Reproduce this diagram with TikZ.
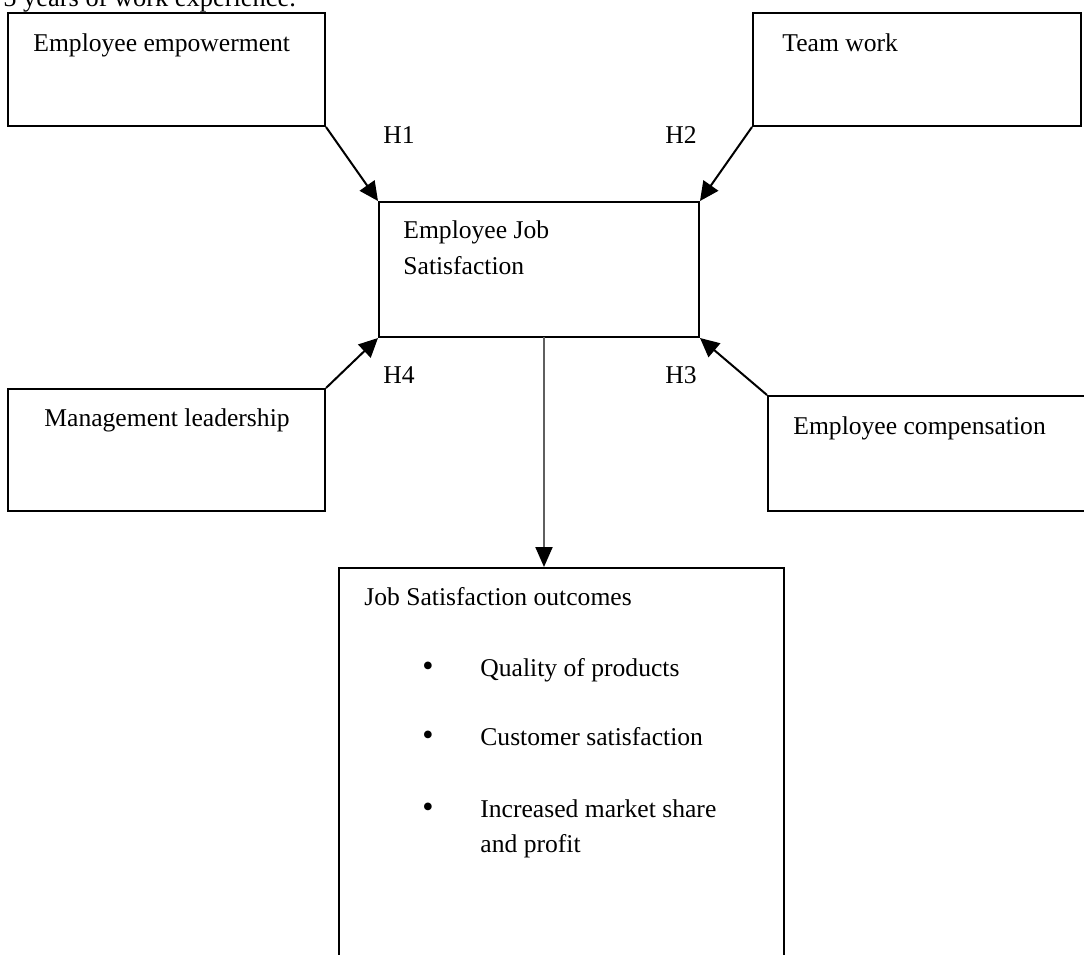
\documentclass[tikz,border=0pt]{standalone}
\usepackage{fontspec}
\setmainfont{Liberation Serif}
\usetikzlibrary{arrows.meta,fit}
\definecolor{linegray}{RGB}{95,95,95}
\begin{document}
\begin{tikzpicture}[x=0.5pt,y=-0.5pt,
  box/.style={draw=black,line width=1pt,inner sep=0pt},
  txt/.style={anchor=base west,inner sep=0pt,font=\fontsize{12.8}{18}\selectfont},
  bul/.style={anchor=base,inner sep=0pt,font=\fontsize{16}{18}\selectfont},
  arr/.style={line width=1pt,-{Triangle[length=9.5pt,width=9pt]}},
]
\useasboundingbox (0,0) rectangle (1084,955);
\clip (0,0) rectangle (1084,955);

% header text (cut off at top, as in the reference)
\node[anchor=base west,inner sep=0pt,font=\fontsize{13.2}{16}\selectfont] (hdr) at (3,6) {5 years of work experience.};

% boxes
\node[box,fit={(8,13) (325,126)}] (emp) {};
\node[box,fit={(753,13) (1081,126)}] (team) {};
\node[box,fit={(379,202) (699,337)}] (ejs) {};
\node[box,fit={(8,389) (325,511)}] (mgmt) {};
\node[box,fit={(768,396) (1100,511)}] (comp) {};
\node[box,fit={(339,568) (784,1000)}] (out) {};

% box texts
\node[txt] (empT) at (33,51) {Employee empowerment};
\node[txt] (teamT) at (782,51) {Team work};
\node[txt] (ejsT1) at (403,238) {Employee Job};
\node[txt] (ejsT2) at (403,274) {Satisfaction};
\node[txt] (mgmtT) at (44,426) {Management leadership};
\node[txt] (compT) at (793,434) {Employee compensation};
\node[txt] (outT) at (364,605) {Job Satisfaction outcomes};

\node[bul] (b1) at (428,676) {\textbullet};
\node[txt] (o1) at (480,676) {Quality of products};
\node[bul] (b2) at (428,745) {\textbullet};
\node[txt] (o2) at (480,745) {Customer satisfaction};
\node[bul] (b3) at (428,817) {\textbullet};
\node[txt] (o3a) at (480,817) {Increased market share};
\node[txt] (o3b) at (480,852) {and profit};

% hypothesis labels
\node[txt] (h1) at (383,143) {H1};
\node[txt] (h2) at (665,143) {H2};
\node[txt] (h4) at (383,383) {H4};
\node[txt] (h3) at (665,383) {H3};

% connectors
\draw[arr] (emp.south east) -- (ejs.north west);
\draw[arr] (team.south west) -- (ejs.north east);
\draw[arr] (mgmt.north east) -- (ejs.south west);
\draw[arr] (comp.north west) -- (ejs.south east);
\coordinate (dtop) at (544,337);
\draw[line width=1pt,draw=linegray,-{Triangle[length=10pt,width=8.5pt,color=black]}] (dtop) -- (dtop |- out.north);
\end{tikzpicture}
\end{document}
